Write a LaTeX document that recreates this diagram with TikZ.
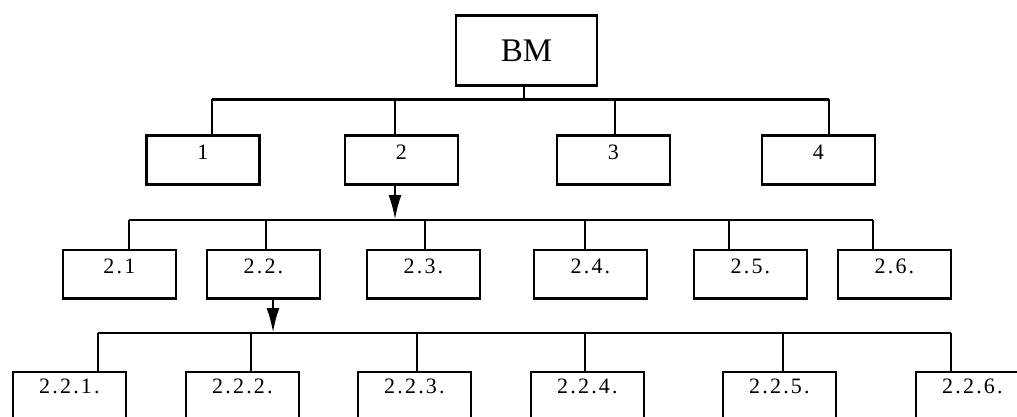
\documentclass[tikz,border=0pt]{standalone}
\usepackage{fontspec}
\setmainfont{Liberation Serif}
\newfontfamily\lblfont[LetterSpace=10]{Liberation Serif}
\usetikzlibrary{arrows.meta}

\begin{document}
\begin{tikzpicture}[x=1pt,y=-1pt,>={Latex[length=25pt,width=13pt]},line width=2.8pt]

  \tikzstyle{root}=[rectangle,draw,line width=2.2pt,anchor=north west,inner sep=0pt,minimum width=141pt,minimum height=70pt,font=\fontsize{33}{36}\selectfont]
  \tikzstyle{box}=[rectangle,draw,anchor=north west,inner sep=0pt,minimum width=113pt,text height=24pt,text depth=24.5pt,font=\fontsize{22}{24}\selectfont]
  \tikzstyle{subbox}=[box,font=\fontsize{22}{24}\lblfont]
  \tikzstyle{leafbox}=[subbox,text height=22pt,text depth=40pt]

  \useasboundingbox (0,0) rectangle (1017,417);

  \node [root] (bm) at (455,14.5) {BM};

  \node [box] (b1) at (145,134.5)   {1};
  \node [box] (b2) at (343.5,134.5) {2};
  \node [box] (b3) at (555.5,134.5) {3};
  \node [box] (b4) at (760.5,134.5) {4};

  \node [subbox] (b21) at (61.5,248.5)  {2.1};
  \node [subbox] (b22) at (205.5,248.5) {2.2.};
  \node [subbox] (b23) at (365.5,248.5) {2.3.};
  \node [subbox] (b24) at (532.5,248.5) {2.4.};
  \node [subbox] (b25) at (692.5,248.5) {2.5.};
  \node [subbox] (b26) at (836.5,248.5) {2.6.};

  \node [leafbox] (b221) at (11.5,370.5)  {2.2.1.};
  \node [leafbox] (b222) at (184.5,370.5) {2.2.2.};
  \node [leafbox] (b223) at (356.5,370.5) {2.2.3.};
  \node [leafbox] (b224) at (529.5,370.5) {2.2.4.};
  \node [leafbox] (b225) at (721.5,370.5) {2.2.5.};
  \node [leafbox] (b226) at (914.5,370.5) {2.2.6.};

  % first level
  \coordinate (j0) at (524,99.5);
  \coordinate (s1) at (212,99.5);
  \coordinate (s2) at (395,99.5);
  \coordinate (s3) at (615,99.5);
  \coordinate (s4) at (829,99.5);
  \draw (bm.south -| j0) -- (j0);
  \draw (s1) -- (s4);
  \draw (s1) -- (s1 |- b1.north);
  \draw (s2) -- (s2 |- b2.north);
  \draw (s3) -- (s3 |- b3.north);
  \draw (s4) -- (s4 |- b4.north);

  % second level
  \coordinate (j2) at (395,220);
  \coordinate (s21) at (129,220);
  \coordinate (s22) at (266,220);
  \coordinate (s23) at (425,220);
  \coordinate (s24) at (585,220);
  \coordinate (s25) at (729,220);
  \coordinate (s26) at (873,220);
  \draw [->] (b2.south -| j2) -- (j2);
  \draw (s21) -- (s26);
  \draw (s21) -- (s21 |- b21.north);
  \draw (s22) -- (s22 |- b22.north);
  \draw (s23) -- (s23 |- b23.north);
  \draw (s24) -- (s24 |- b24.north);
  \draw (s25) -- (s25 |- b25.north);
  \draw (s26) -- (s26 |- b26.north);

  % third level
  \coordinate (j22) at (273,333);
  \coordinate (s221) at (98,333);
  \coordinate (s222) at (251,333);
  \coordinate (s223) at (417,333);
  \coordinate (s224) at (585,333);
  \coordinate (s225) at (783,333);
  \coordinate (s226) at (951,333);
  \draw [->] (b22.south -| j22) -- (j22);
  \draw (s221) -- (s226);
  \draw (s221) -- (s221 |- b221.north);
  \draw (s222) -- (s222 |- b222.north);
  \draw (s223) -- (s223 |- b223.north);
  \draw (s224) -- (s224 |- b224.north);
  \draw (s225) -- (s225 |- b225.north);
  \draw (s226) -- (s226 |- b226.north);

\end{tikzpicture}
\end{document}
